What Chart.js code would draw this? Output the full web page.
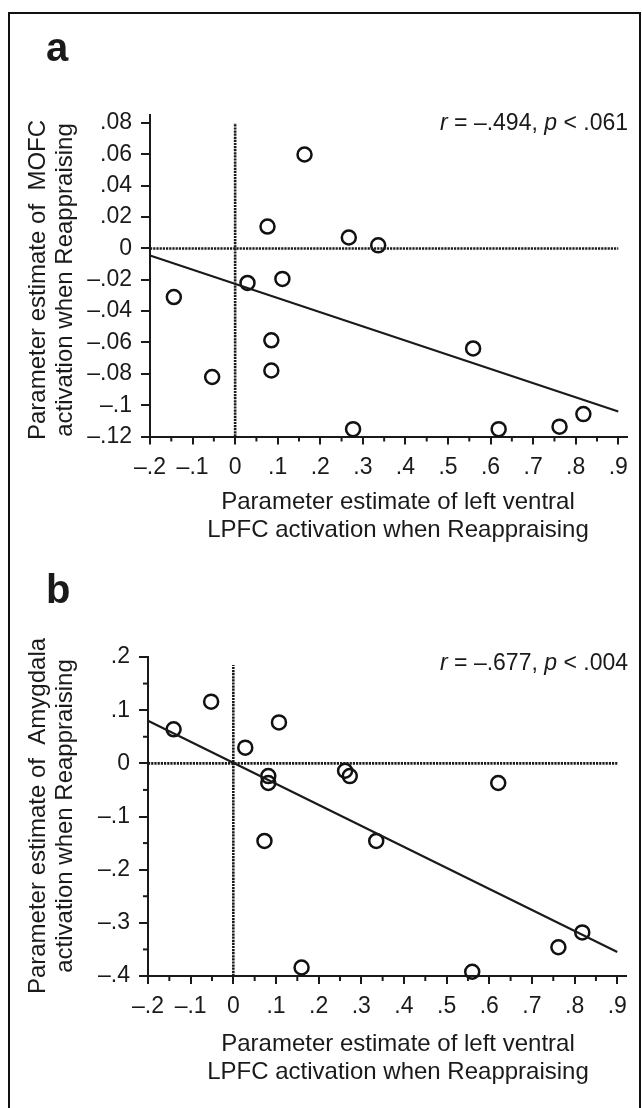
<!DOCTYPE html>
<html>
<head>
<meta charset="utf-8">
<script src="https://cdn.jsdelivr.net/npm/chart.js@4.4.1/dist/chart.umd.min.js"></script>
<style>
html, body { margin: 0; padding: 0; background: #fff; overflow: hidden; }
body { width: 642px; height: 1108px; position: relative; }
#frame { position: absolute; left: 8px; top: 12px; width: 629px; height: 1200px; border: 2.5px solid #111; }
canvas { position: absolute; left: 0; }
#chartA { top: 0; }
#chartB { top: 560px; }
</style>
</head>
<body>
<div id="frame"></div>
<canvas id="chartA" width="642" height="560"></canvas>
<canvas id="chartB" width="642" height="548"></canvas>
<script>
// panel a: left ventral LPFC (x) vs MOFC (y)
const aX = [-0.144, -0.054, 0.029, 0.076, 0.111, 0.085, 0.085, 0.163, 0.267, 0.277, 0.336, 0.559, 0.619, 0.762, 0.818];
const aY = [-0.031, -0.082, -0.022, 0.014, -0.0194, -0.0586, -0.0779, 0.060, 0.007, -0.1153, 0.002, -0.0638, -0.1153, -0.1137, -0.1057];
const aFitX = [-0.2, 0.9];
const aFitY = [-0.0045, -0.104];
const aXTicks = [-0.2, -0.1, 0, 0.1, 0.2, 0.3, 0.4, 0.5, 0.6, 0.7, 0.8, 0.9];
const aXTickLabels = ['–.2', '–.1', '0', '.1', '.2', '.3', '.4', '.5', '.6', '.7', '.8', '.9'];
const aXMinor = [-0.15, -0.05, 0.05, 0.15, 0.25, 0.35, 0.45, 0.55, 0.65, 0.75, 0.85];
const aYTicks = [-0.12, -0.1, -0.08, -0.06, -0.04, -0.02, 0, 0.02, 0.04, 0.06, 0.08];
const aYTickLabels = ['–.12', '–.1', '–.08', '–.06', '–.04', '–.02', '0', '.02', '.04', '.06', '.08'];
const aYMinor = [];
const aStat = ['–.494', '.061'];

// panel b: left ventral LPFC (x) vs amygdala (y)
const bX = [-0.14, -0.052, 0.028, 0.107, 0.082, 0.082, 0.073, 0.160, 0.262, 0.273, 0.335, 0.621, 0.560, 0.762, 0.818];
const bY = [0.064, 0.116, 0.0295, 0.077, -0.024, -0.037, -0.146, -0.384, -0.014, -0.024, -0.146, -0.037, -0.392, -0.346, -0.318];
const bFitX = [-0.2, 0.9];
const bFitY = [0.08, -0.355];
const bXTicks = [-0.2, -0.1, 0, 0.1, 0.2, 0.3, 0.4, 0.5, 0.6, 0.7, 0.8, 0.9];
const bXTickLabels = ['–.2', '–.1', '0', '.1', '.2', '.3', '.4', '.5', '.6', '.7', '.8', '.9'];
const bXMinor = [-0.15, -0.05, 0.05, 0.15, 0.25, 0.35, 0.45, 0.55, 0.65, 0.75, 0.85];
const bYTicks = [-0.4, -0.3, -0.2, -0.1, 0, 0.1, 0.2];
const bYTickLabels = ['–.4', '–.3', '–.2', '–.1', '0', '.1', '.2'];
const bYMinor = [-0.35, -0.25, -0.15, -0.05, 0.05, 0.15];
const bStat = ['–.677', '.004'];

const FONT = "'Liberation Sans', Arial, Helvetica, sans-serif";
const INK = '#1a1a1a';
Chart.defaults.font.family = FONT;
Chart.defaults.color = INK;

const xy = (xs, ys) => xs.map((x, i) => ({ x: x, y: ys[i] }));

// minor ticks, axis titles, panel letter and r/p note
const extras = {
    id: 'extras',
    afterDraw(chart, args, o) {
        const ctx = chart.ctx;
        const xs = chart.scales.x, ys = chart.scales.y;
        const area = chart.chartArea;
        ctx.save();
        ctx.strokeStyle = INK;
        ctx.lineWidth = 2;
        o.xMinor.forEach(v => {
            const p = xs.getPixelForValue(v);
            ctx.beginPath(); ctx.moveTo(p, area.bottom); ctx.lineTo(p, area.bottom + 5); ctx.stroke();
        });
        o.yMinor.forEach(v => {
            const p = ys.getPixelForValue(v);
            ctx.beginPath(); ctx.moveTo(area.left, p); ctx.lineTo(area.left - 5, p); ctx.stroke();
        });

        ctx.fillStyle = INK;
        ctx.font = '24px ' + FONT;
        ctx.textAlign = 'center';
        ctx.textBaseline = 'middle';
        o.xTitle.forEach((t, i) => ctx.fillText(t, o.xTitleX, o.xTitleY[i]));
        o.yTitle.forEach((t, i) => {
            ctx.save();
            ctx.translate(o.yTitleX[i], o.yTitleY);
            ctx.rotate(-Math.PI / 2);
            ctx.fillText(t, 0, 0);
            ctx.restore();
        });

        ctx.font = 'bold 40px ' + FONT;
        ctx.textAlign = 'left';
        ctx.textBaseline = 'alphabetic';
        ctx.fillText(o.letter, 46, o.letterY);

        // "r = ..., p < ..." right aligned
        const parts = [['r', 'italic '], [' = ' + o.stat[0] + ', ', ''], ['p', 'italic '], [' < ' + o.stat[1], '']];
        let w = 0;
        parts.forEach(p => { ctx.font = p[1] + '23px ' + FONT; w += ctx.measureText(p[0]).width; });
        let x = 628 - w;
        parts.forEach(p => {
            ctx.font = p[1] + '23px ' + FONT;
            ctx.fillText(p[0], x, o.statY);
            x += ctx.measureText(p[0]).width;
        });
        ctx.restore();
    }
};

function makePanel(id, d) {
    const lineStyle = { showLine: true, pointRadius: 0, borderColor: INK, fill: false, clip: false };
    return new Chart(document.getElementById(id), {
        type: 'scatter',
        data: {
            datasets: [
                Object.assign({ data: xy(d.zeroX, [0, 0]), borderWidth: 2.6, borderDash: [2.2, 1] }, lineStyle),
                Object.assign({ data: xy([0, 0], d.zeroY), borderWidth: 2.6, borderDash: [2.2, 0.9] }, lineStyle),
                Object.assign({ data: xy(d.fitX, d.fitY), borderWidth: 2.2 }, lineStyle),
                {
                    data: xy(d.x, d.y), pointRadius: 7, pointHoverRadius: 7, pointBorderWidth: 2.5,
                    borderColor: '#111', backgroundColor: 'rgba(0,0,0,0)', clip: false
                }
            ]
        },
        options: {
            responsive: false,
            animation: false,
            events: [],
            layout: { padding: { left: 0, right: d.padRight, top: d.padTop, bottom: 0 } },
            plugins: {
                legend: { display: false },
                tooltip: { enabled: false },
                extras: d.extras
            },
            scales: {
                x: {
                    type: 'linear', min: -0.2, max: 0.92,
                    afterBuildTicks: s => { s.ticks = d.xTicks.map(v => ({ value: v })); },
                    afterFit: s => { s.height = d.xHeight; },
                    ticks: { autoSkip: false, maxRotation: 0, padding: 9, font: { size: 23, lineHeight: 1.2 }, color: INK,
                        callback: (v, i) => d.xLabels[i] },
                    grid: { drawOnChartArea: false, drawTicks: true, tickLength: 8, color: INK, lineWidth: 2 },
                    border: { display: true, color: INK, width: 2 }
                },
                y: {
                    type: 'linear', min: d.yMin, max: d.yMax,
                    afterBuildTicks: s => { s.ticks = d.yTicks.map(v => ({ value: v })); },
                    afterFit: s => { s.width = d.yWidth; },
                    ticks: { autoSkip: false, padding: 9, font: { size: 23, lineHeight: 1.2 }, color: INK,
                        callback: (v, i) => d.yLabels[i] },
                    grid: { drawOnChartArea: false, drawTicks: true, tickLength: 9, color: INK, lineWidth: 2 },
                    border: { display: true, color: INK, width: 2 }
                }
            }
        },
        plugins: [extras]
    });
}

makePanel('chartA', {
    x: aX, y: aY, fitX: aFitX, fitY: aFitY, zeroX: [-0.2, 0.9], zeroY: [-0.12, 0.08],
    xTicks: aXTicks, xLabels: aXTickLabels, yTicks: aYTicks, yLabels: aYTickLabels,
    yMin: -0.12, yMax: 0.085, yWidth: 150, xHeight: 123.5, padTop: 115.3, padRight: 15.2,
    extras: {
        xMinor: aXMinor, yMinor: aYMinor, letter: 'a', letterY: 61, stat: aStat, statY: 130,
        xTitle: ['Parameter estimate of left ventral', 'LPFC activation when Reappraising'],
        xTitleX: 398, xTitleY: [502, 530],
        yTitle: ['Parameter estimate of  MOFC', 'activation when Reappraising'],
        yTitleX: [38, 65], yTitleY: 280
    }
});

makePanel('chartB', {
    x: bX, y: bY, fitX: bFitX, fitY: bFitY, zeroX: [-0.2, 0.9], zeroY: [-0.4, 0.185],
    xTicks: bXTicks, xLabels: bXTickLabels, yTicks: bYTicks, yLabels: bYTickLabels,
    yMin: -0.4, yMax: 0.2, yWidth: 148, xHeight: 132, padTop: 97, padRight: 16.2,
    extras: {
        xMinor: bXMinor, yMinor: bYMinor, letter: 'b', letterY: 43, stat: bStat, statY: 110,
        xTitle: ['Parameter estimate of left ventral', 'LPFC activation when Reappraising'],
        xTitleX: 398, xTitleY: [484, 512],
        yTitle: ['Parameter estimate of  Amygdala', 'activation when Reappraising'],
        yTitleX: [38, 65], yTitleY: 256
    }
});
</script>
</body>
</html>
